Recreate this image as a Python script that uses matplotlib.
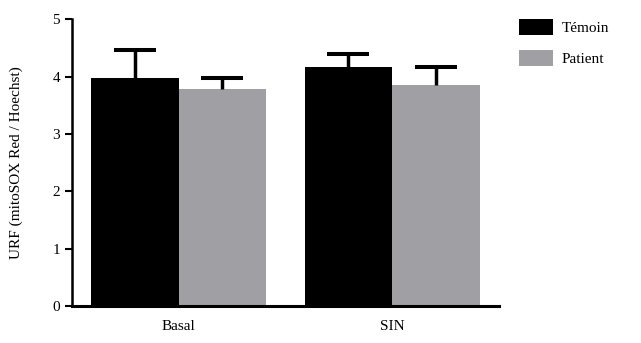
import numpy as np
import matplotlib
matplotlib.use("Agg")
import matplotlib.pyplot as plt

plt.rcParams['font.family'] = ['Liberation Serif', 'DejaVu Serif']

# values read as mean and upper SEM for each condition
conditions = ['Basal', 'SIN']
groups = ['Témoin', 'Patient']
temoin_mean = [3.98, 4.16]
temoin_sem = [0.48, 0.24]
patient_mean = [3.79, 3.86]
patient_sem = [0.19, 0.30]
colors = ['#000000', '#a09fa4']

fig = plt.figure(figsize=(6.41, 3.43), dpi=100)
ax = fig.add_axes([0.1123, 0.1079, 0.666, 0.836])

x = np.arange(len(conditions))
w = 0.41
err_kw = dict(ecolor='black', elinewidth=2.5, capsize=15, capthick=2.9)

bars_t = ax.bar(x - w / 2, temoin_mean, w, color=colors[0], label=groups[0],
                yerr=[np.zeros(2), temoin_sem], error_kw=err_kw, zorder=2)
bars_p = ax.bar(x + w / 2, patient_mean, w, color=colors[1], label=groups[1],
                yerr=[np.zeros(2), patient_sem], error_kw=err_kw, zorder=2)

# only the upper half of each error bar is shown: hide the lower caps
for bc in (bars_t, bars_p):
    caps = bc.errorbar.lines[1]
    caps[0].set_visible(False)

ax.set_xlim(-0.5, 1.5)
ax.set_ylim(0, 5)
ax.set_yticks([0, 1, 2, 3, 4, 5])
ax.set_xticks(x)
ax.set_xticklabels(conditions)

for side in ['top', 'right']:
    ax.spines[side].set_visible(False)
ax.spines['left'].set_linewidth(1.8)
ax.spines['bottom'].set_linewidth(2.2)

ax.tick_params(axis='y', length=5, width=1.5, pad=3.5, labelsize=11)
ax.tick_params(axis='x', length=0, pad=10, labelsize=11)

ax.set_ylabel('URF (mitoSOX Red / Hoechst)', fontsize=11)
ax.yaxis.set_label_coords(-0.115, 0.5)

fig.legend(loc='upper left', bbox_to_anchor=(519 / 641, 1 - 19 / 343),
           frameon=False, fontsize=11, handlelength=2.2, handleheight=1.2,
           handletextpad=0.6, labelspacing=1.0, borderpad=0, borderaxespad=0)

fig.savefig('out.png', dpi=100)
